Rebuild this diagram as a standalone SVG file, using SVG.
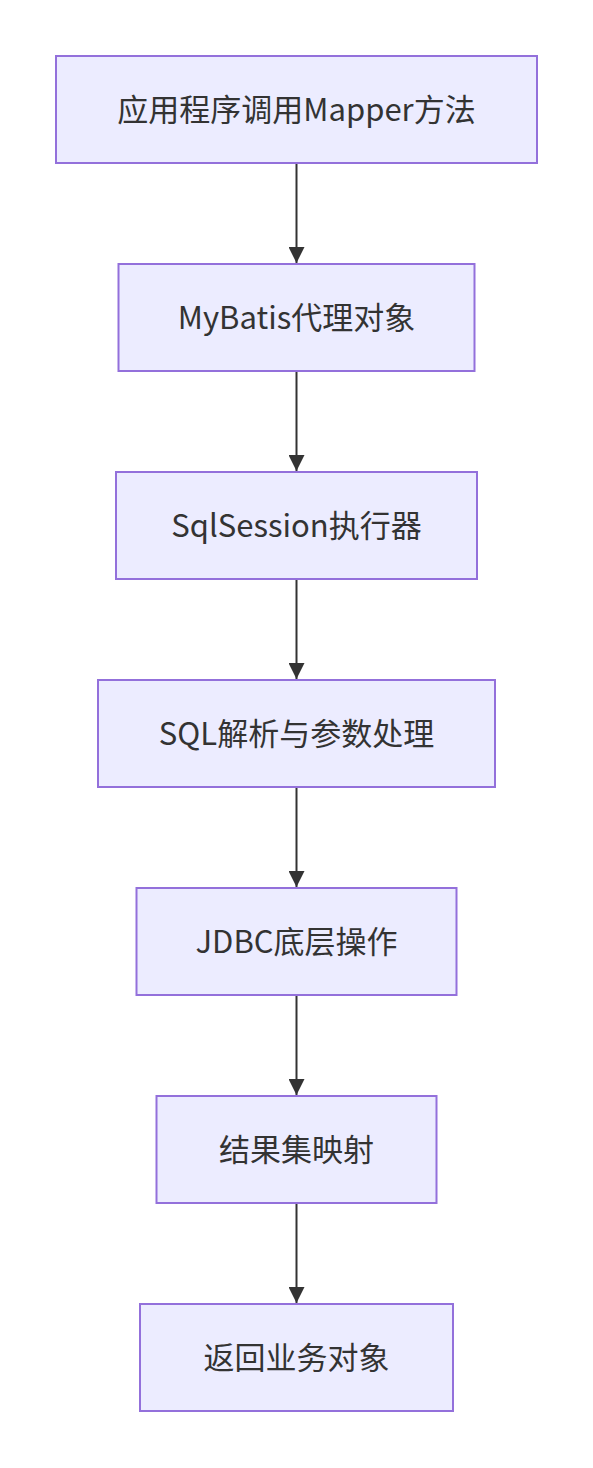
<svg xmlns="http://www.w3.org/2000/svg" width="593" height="1468" viewBox="0 0 593 1468">
<style>
.node rect{fill:#ECECFF;stroke:#9370DB;stroke-width:2}
.node text{font-family:"Noto Sans CJK SC","Noto Sans",sans-serif;font-size:31px;fill:#333333;text-anchor:middle}
.edge{stroke:#333333;stroke-width:2;fill:none}
</style>
<defs>
<marker id="arrow" viewBox="0 0 16 16" refX="16" refY="8" markerWidth="16" markerHeight="16" markerUnits="userSpaceOnUse" orient="auto">
<path d="M0,0 L16,8 L0,16 Z" fill="#333333"/>
</marker>
</defs>
<rect width="593" height="1468" fill="#FFFFFF"/>
<g id="connectors">
<line class="edge" x1="296.5" y1="164" x2="296.5" y2="263" marker-end="url(#arrow)"/>
<line class="edge" x1="296.5" y1="372" x2="296.5" y2="471" marker-end="url(#arrow)"/>
<line class="edge" x1="296.5" y1="580" x2="296.5" y2="679" marker-end="url(#arrow)"/>
<line class="edge" x1="296.5" y1="788" x2="296.5" y2="887" marker-end="url(#arrow)"/>
<line class="edge" x1="296.5" y1="996" x2="296.5" y2="1095" marker-end="url(#arrow)"/>
<line class="edge" x1="296.5" y1="1204" x2="296.5" y2="1303" marker-end="url(#arrow)"/>
</g>
<g id="n1" class="node"><rect x="56" y="56" width="481" height="107"/><text x="296.5" y="121">应用程序调用Mapper方法</text></g>
<g id="n2" class="node"><rect x="118.5" y="264" width="356" height="107"/><text x="296.5" y="329">MyBatis代理对象</text></g>
<g id="n3" class="node"><rect x="116" y="472" width="361" height="107"/><text x="296.5" y="537">SqlSession执行器</text></g>
<g id="n4" class="node"><rect x="98" y="680" width="397" height="107"/><text x="296.5" y="745">SQL解析与参数处理</text></g>
<g id="n5" class="node"><rect x="136.5" y="888" width="320" height="107"/><text x="296.5" y="953">JDBC底层操作</text></g>
<g id="n6" class="node"><rect x="156.5" y="1096" width="280" height="107"/><text x="296.5" y="1161">结果集映射</text></g>
<g id="n7" class="node"><rect x="140" y="1304" width="313" height="107"/><text x="296.5" y="1369">返回业务对象</text></g>
</svg>
